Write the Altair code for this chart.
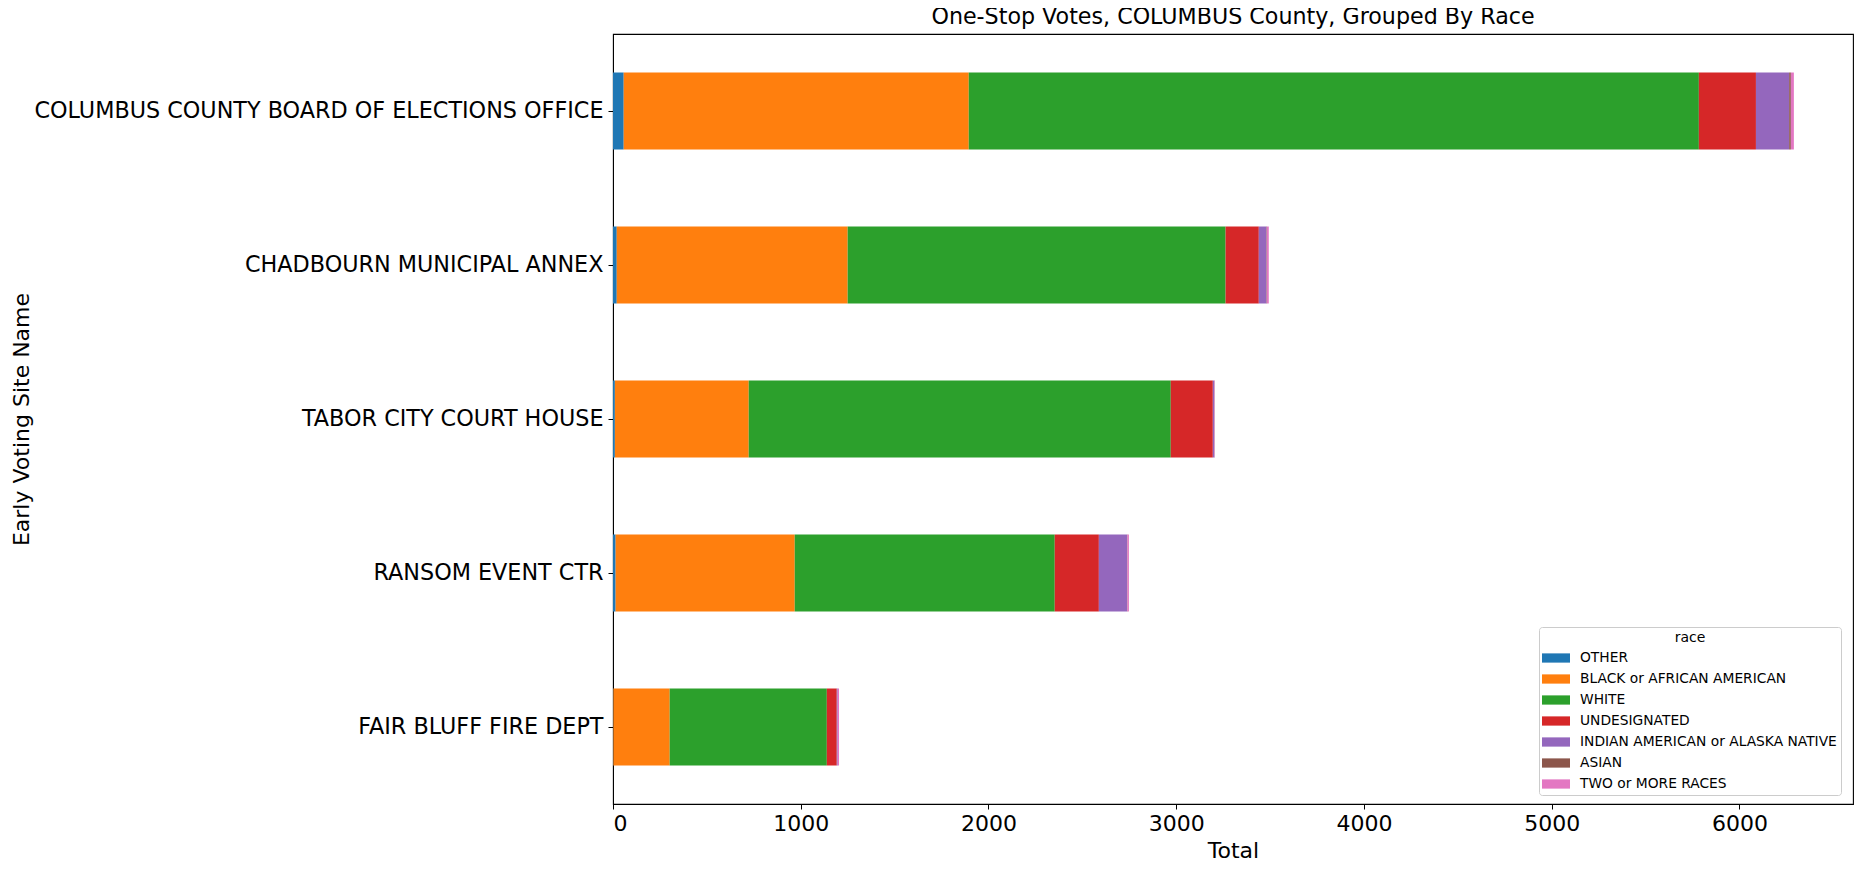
import altair as alt
import pandas as pd

sites = [
    "COLUMBUS COUNTY BOARD OF ELECTIONS OFFICE",
    "CHADBOURN MUNICIPAL ANNEX",
    "TABOR CITY COURT HOUSE",
    "RANSOM EVENT CTR",
    "FAIR BLUFF FIRE DEPT",
]
races = [
    "OTHER",
    "BLACK or AFRICAN AMERICAN",
    "WHITE",
    "UNDESIGNATED",
    "INDIAN AMERICAN or ALASKA NATIVE",
    "ASIAN",
    "TWO or MORE RACES",
]
colors = ["#1f77b4", "#ff7f0e", "#2ca02c", "#d62728", "#9467bd", "#8c564b", "#e377c2"]

other = [57, 20, 10, 14, 2]
black = [1838, 1230, 713, 954, 300]
white = [3889, 2013, 2248, 1385, 837]
undesignated = [304, 177, 224, 235, 53]
indian = [177, 41, 8, 150, 5]
asian = [9, 2, 1, 2, 0]
two_more = [16, 10, 2, 8, 7]

series = [other, black, white, undesignated, indian, asian, two_more]
rows = []
for ri, (race, vals) in enumerate(zip(races, series)):
    for site, v in zip(sites, vals):
        rows.append({"site": site, "race": race, "order": ri, "Total": v})
df = pd.DataFrame(rows)

FONT = "DejaVu Sans"

chart = (
    alt.Chart(df)
    .mark_bar()
    .encode(
        x=alt.X(
            "Total:Q",
            stack="zero",
            scale=alt.Scale(domain=[0, 6605], nice=False, zero=True),
            axis=alt.Axis(
                title="Total",
                values=[0, 1000, 2000, 3000, 4000, 5000, 6000],
                format="d",
                grid=False,
                labelFontSize=22,
                titleFontSize=22,
                titleFontWeight="normal",
                labelColor="black",
                titleColor="black",
                tickColor="black",
                domainColor="black",
                tickSize=5,
                labelPadding=4,
                titleY=46,
                titleBaseline="middle",
            ),
        ),
        y=alt.Y(
            "site:N",
            sort=sites,
            scale=alt.Scale(paddingInner=0.5, paddingOuter=0.25),
            axis=alt.Axis(
                title="Early Voting Site Name",
                grid=False,
                labelFontSize=22.3,
                titleFontSize=22,
                titleFontWeight="normal",
                labelColor="black",
                titleColor="black",
                tickColor="black",
                domainColor="black",
                tickSize=5,
                labelPadding=5,
                labelLimit=1000,
                titleX=-592,
                titleY=385,
                titleAlign="center",
                titleBaseline="middle",
            ),
        ),
        color=alt.Color(
            "race:N",
            sort=races,
            scale=alt.Scale(domain=races, range=colors),
            legend=alt.Legend(
                title="race",
                orient="none",
                legendX=926,
                legendY=593,
                titleFontSize=14,
                titleFontWeight="normal",
                titleColor="black",
                titleAnchor="middle",
                titlePadding=6,
                labelFontSize=13.8,
                labelColor="black",
                labelLimit=1000,
                symbolType="M-2,-0.66L2,-0.66L2,0.66L-2,0.66Z",
                symbolSize=196,
                symbolStrokeWidth=0,
                symbolOpacity=1,
                symbolOffset=6,
                labelOffset=17,
                rowPadding=7,
                padding=4,
                strokeColor="#cccccc",
                fillColor="white",
                cornerRadius=3,
            ),
        ),
        order=alt.Order("order:Q"),
    )
    .properties(
        width=1240,
        height=770,
        title=alt.TitleParams(
            "One-Stop Votes, COLUMBUS County, Grouped By Race",
            fontSize=22.2,
            fontWeight="normal",
            font=FONT,
            color="black",
            anchor="middle",
            baseline="bottom",
            frame="group",
            offset=-17,
        ),
        autosize=alt.AutoSizeParams(type="none"),
        padding={"left": 605, "top": 26, "right": 1, "bottom": 57},
    )
    .configure(font=FONT)
    .configure_view(stroke="black", strokeWidth=1.1)
)

chart.save("out.html", embed_options={"renderer": "svg", "actions": False})
